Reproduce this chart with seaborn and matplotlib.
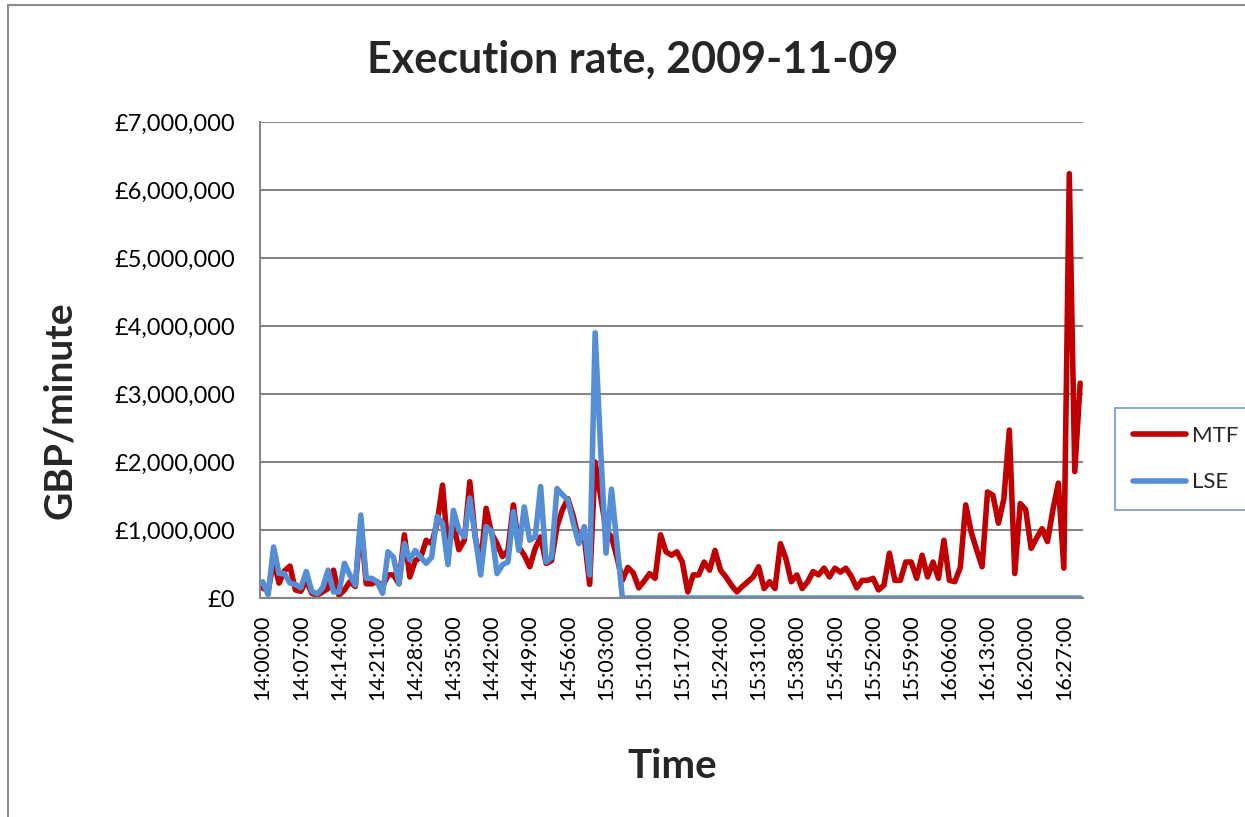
import pandas as pd
import seaborn as sns
import matplotlib.pyplot as plt
from matplotlib.patches import Rectangle
from matplotlib.lines import Line2D
from matplotlib.ticker import FuncFormatter

# GBP per minute, in millions, one value per minute from 14:00 to 16:30
mtf = [0.15, 0.10, 0.55, 0.22, 0.40, 0.47, 0.12, 0.10, 0.26, 0.07,
       0.04, 0.09, 0.14, 0.41, 0.04, 0.12, 0.24, 0.17, 1.10, 0.21,
       0.21, 0.24, 0.17, 0.34, 0.34, 0.21, 0.93, 0.31, 0.55, 0.60,
       0.85, 0.80, 1.10, 1.66, 0.70, 1.10, 0.71, 0.85, 1.71, 0.90,
       0.50, 1.32, 0.95, 0.80, 0.61, 0.70, 1.37, 0.75, 0.63, 0.46,
       0.73, 0.90, 0.51, 0.55, 1.05, 1.30, 1.46, 1.20, 0.85, 0.90,
       0.20, 2.00, 1.50, 1.00, 0.90, 0.60, 0.26, 0.45, 0.37, 0.15,
       0.25, 0.36, 0.29, 0.93, 0.68, 0.63, 0.68, 0.53, 0.09, 0.34,
       0.34, 0.53, 0.41, 0.70, 0.41, 0.31, 0.19, 0.09, 0.17, 0.24,
       0.31, 0.46, 0.14, 0.24, 0.14, 0.80, 0.58, 0.24, 0.34, 0.14,
       0.24, 0.39, 0.34, 0.44, 0.31, 0.44, 0.38, 0.44, 0.32, 0.15,
       0.26, 0.26, 0.29, 0.12, 0.19, 0.66, 0.26, 0.26, 0.53, 0.53,
       0.29, 0.63, 0.31, 0.53, 0.29, 0.85, 0.26, 0.24, 0.45, 1.37,
       0.97, 0.71, 0.46, 1.56, 1.51, 1.10, 1.46, 2.47, 0.36, 1.39,
       1.30, 0.73, 0.88, 1.02, 0.83, 1.30, 1.69, 0.44, 6.24, 1.86,
       3.16]

lse = [0.24, 0.05, 0.75, 0.36, 0.36, 0.22, 0.20, 0.15, 0.39, 0.10,
       0.06, 0.15, 0.41, 0.09, 0.09, 0.51, 0.34, 0.19, 1.22, 0.29,
       0.29, 0.24, 0.07, 0.68, 0.60, 0.21, 0.80, 0.56, 0.70, 0.60,
       0.51, 0.60, 1.20, 1.10, 0.49, 1.29, 1.00, 0.90, 1.47, 0.90,
       0.34, 1.05, 0.98, 0.36, 0.49, 0.53, 1.27, 0.70, 1.34, 0.85,
       0.90, 1.64, 0.53, 0.60, 1.61, 1.52, 1.44, 1.10, 0.80, 1.05,
       0.34, 3.90, 2.20, 0.66, 1.60, 0.80] + [0.0] * 85

tick_labels = ["14:00:00", "14:07:00", "14:14:00", "14:21:00", "14:28:00",
               "14:35:00", "14:42:00", "14:49:00", "14:56:00", "15:03:00",
               "15:10:00", "15:17:00", "15:24:00", "15:31:00", "15:38:00",
               "15:45:00", "15:52:00", "15:59:00", "16:06:00", "16:13:00",
               "16:20:00", "16:27:00"]

colors = {"MTF": "#C00000", "LSE": "#558ED5"}

df = pd.DataFrame({
    "minute": list(range(len(mtf))) * 2,
    "gbp": [v * 1e6 for v in mtf + lse],
    "market": ["MTF"] * len(mtf) + ["LSE"] * len(lse),
})

sns.set_style("white")
plt.rcParams["font.family"] = ["Lato", "DejaVu Sans"]

fig = plt.figure(figsize=(12.45, 8.17), dpi=100)
ax = fig.add_axes([0.2088, 0.268, 0.661, 0.5827])

sns.lineplot(data=df, x="minute", y="gbp", hue="market", hue_order=["MTF", "LSE"],
             palette=colors, linewidth=4, ax=ax, legend=False)

ax.set_ylim(0, 7e6)
ax.set_yticks([i * 1e6 for i in range(8)])
ax.yaxis.set_major_formatter(FuncFormatter(lambda v, p: f"£{v:,.0f}"))
ax.set_xlim(-0.5, 150.5)
ax.set_xticks(range(0, 148, 7))
ax.set_xticklabels(tick_labels, rotation=90)
ax.tick_params(axis="both", length=0, colors="black")
ax.tick_params(axis="y", pad=18, labelsize=17)
ax.tick_params(axis="x", pad=12, labelsize=15.5)
ax.set_xlabel("")
ax.set_ylabel("")

ax.grid(axis="y", color="#868686", linewidth=1.5)
ax.set_axisbelow(True)
for side in ["top", "right"]:
    ax.spines[side].set_visible(False)
for side in ["left", "bottom"]:
    ax.spines[side].set_color("#868686")
    ax.spines[side].set_linewidth(1.5)

fig.text(0.5084, 1 - 60 / 817, "Execution rate, 2009-11-09", ha="center", va="center",
         fontsize=31, fontweight="bold")
fig.text(60 / 1245, 1 - 410 / 817, "GBP/minute", ha="center", va="center",
         rotation=90, fontsize=28, fontweight="bold")
fig.text(672 / 1245, 1 - 767 / 817, "Time", ha="center", va="center",
         fontsize=29, fontweight="bold")

handles = [Line2D([], [], color=colors[k], linewidth=4) for k in ["MTF", "LSE"]]
leg = fig.legend(handles, ["MTF", "LSE"], loc="upper left", bbox_to_anchor=(0.8956, 0.5006),
                 fontsize=16, frameon=True, fancybox=False, handlelength=2.4,
                 labelspacing=1.2, borderpad=0.8, handletextpad=0.25, borderaxespad=0)
leg.get_frame().set_edgecolor("#4F81BD")
leg.get_frame().set_linewidth(1.2)

fig.patches.append(Rectangle((8 / 1245, -0.05), 1.2, 1.05 - 5 / 817, transform=fig.transFigure,
                             fill=False, edgecolor="#8C8C8C", linewidth=1.5))

fig.savefig("out.png", dpi=100)
